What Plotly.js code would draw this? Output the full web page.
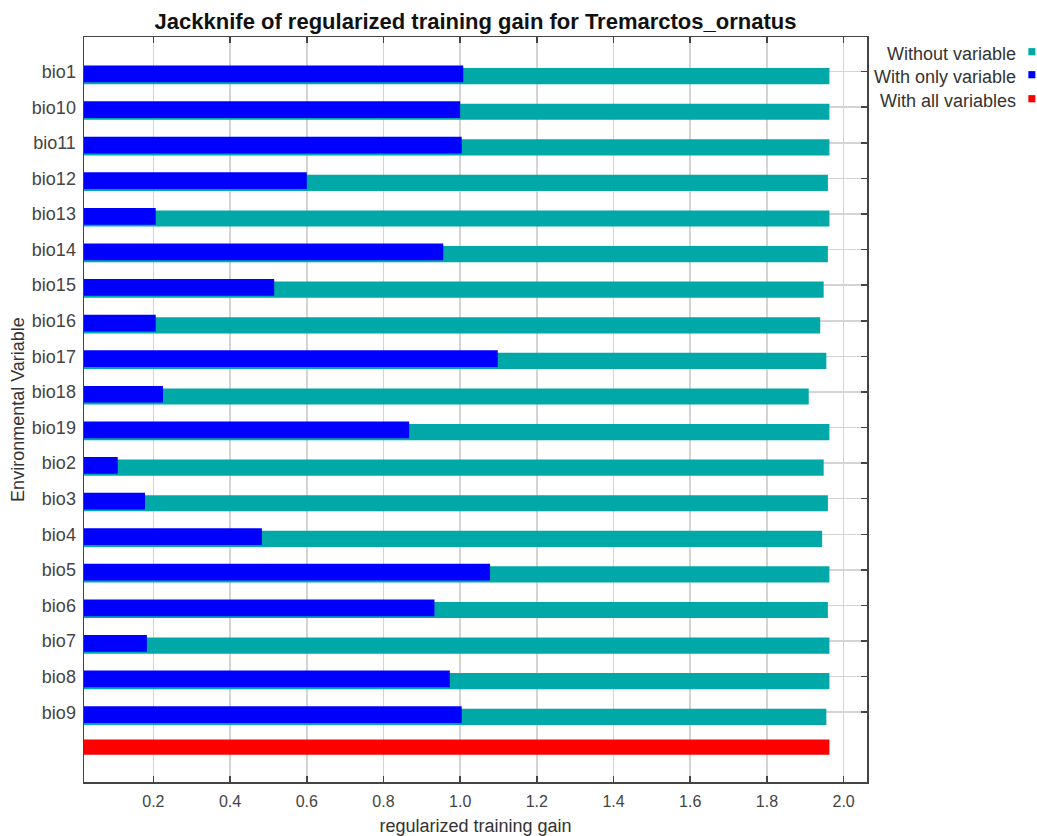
<!DOCTYPE html>
<html>
<head>
<meta charset="utf-8">
<script src="https://cdn.plot.ly/plotly-3.0.1.min.js"></script>
<style>html,body{margin:0;padding:0;background:#fff;}#chart{width:1037px;height:836px;}</style>
</head>
<body>
<div id="chart"></div>
<script>
// Data
var variables = ["bio1","bio10","bio11","bio12","bio13","bio14","bio15","bio16","bio17","bio18","bio19","bio2","bio3","bio4","bio5","bio6","bio7","bio8","bio9"];
var withoutVariable = [1.963,1.963,1.963,1.959,1.963,1.959,1.948,1.939,1.955,1.909,1.963,1.948,1.959,1.944,1.963,1.959,1.963,1.963,1.955];
var withOnlyVariable = [1.008,1.000,1.004,0.600,0.206,0.956,0.515,0.206,1.098,0.225,0.867,0.107,0.178,0.483,1.078,0.933,0.183,0.973,1.004];
var withAllVariables = [1.963];
var legendLabels = ["Without variable","With only variable","With all variables"];
var colors = ["#00a8a8","#0000ff","#ff0000"];
var xTicks = [0.2,0.4,0.6,0.8,1.0,1.2,1.4,1.6,1.8,2.0];

var idx = variables.map(function(_, i){ return i; });
var allIdx = [variables.length];

var traces = [
  {type:"bar", orientation:"h", x:withoutVariable, y:idx, marker:{color:colors[0]}, width:0.455, offset:-0.10, showlegend:false, hoverinfo:"skip"},
  {type:"bar", orientation:"h", x:withOnlyVariable, y:idx, marker:{color:colors[1]}, width:0.47, offset:-0.17, showlegend:false, hoverinfo:"skip"},
  {type:"bar", orientation:"h", x:withAllVariables, y:allIdx, marker:{color:colors[2]}, width:0.43, offset:-0.236, showlegend:false, hoverinfo:"skip"}
];

var font = "Liberation Sans, Arial, sans-serif";
var annotations = [];
var shapes = [];
var textY = [53.8, 77.3, 100.8];
var squareY = [51.7, 74.7, 98.7];
var plotTop = 37, plotBottom = 781.7, plotLeft = 84, plotRight = 866.7;
var ph = plotBottom - plotTop, pw = plotRight - plotLeft;
legendLabels.forEach(function(t, i){
  annotations.push({text:t, xref:"paper", yref:"paper", x:(1018-plotLeft)/pw, y:(plotBottom - textY[i]) / ph, xanchor:"right", yanchor:"middle", showarrow:false, font:{family:font, size:18, color:"#333"}});
  var yc = (plotBottom - squareY[i]) / ph;
  shapes.push({type:"rect", xref:"paper", yref:"paper", x0:(1028-plotLeft)/pw, x1:(1035-plotLeft)/pw, y0:yc-3.6/ph, y1:yc+3.6/ph, fillcolor:colors[i], line:{width:0}});
});

var layout = {
  width:1037, height:836,
  margin:{l:84, r:170.3, t:37, b:54.3},
  paper_bgcolor:"#fff", plot_bgcolor:"#fff",
  barmode:"overlay",
  font:{family:font, color:"#444"},
  title:{text:"Jackknife of regularized training gain for Tremarctos_ornatus", font:{family:font, size:22, color:"#111", weight:"bold"}, x:0.5, xref:"paper", xanchor:"center", y:1-21.5/836, yref:"container", yanchor:"middle"},
  xaxis:{range:[0.019,2.061], tickvals:xTicks, tickformat:".1f", showgrid:true, gridcolor:"#d4d4d4", gridwidth:1.5, zeroline:false,
         showline:true, linecolor:"#444", linewidth:1.5, mirror:"ticks", ticks:"inside", ticklen:6, tickwidth:1.5, tickcolor:"#444",
         tickfont:{size:16, color:"#444"}, ticklabelstandoff:4, layer:"below traces",
         title:{text:"regularized training gain", font:{size:18, color:"#333"}, standoff:10}},
  yaxis:{range:[19.96,-0.973], tickvals:idx, ticktext:variables, showgrid:true, gridcolor:"#d4d4d4", gridwidth:1.5, zeroline:false,
         showline:true, linecolor:"#444", linewidth:1.5, mirror:"ticks", ticks:"inside", ticklen:6, tickwidth:1.5, tickcolor:"#444",
         tickfont:{size:18, color:"#444"}, ticklabelstandoff:3, layer:"below traces",
         title:{text:"Environmental Variable", font:{size:18, color:"#333"}, standoff:2}},
  annotations:annotations,
  shapes:shapes,
  showlegend:false
};

Plotly.newPlot("chart", traces, layout, {displayModeBar:false, staticPlot:true});
</script>
</body>
</html>
